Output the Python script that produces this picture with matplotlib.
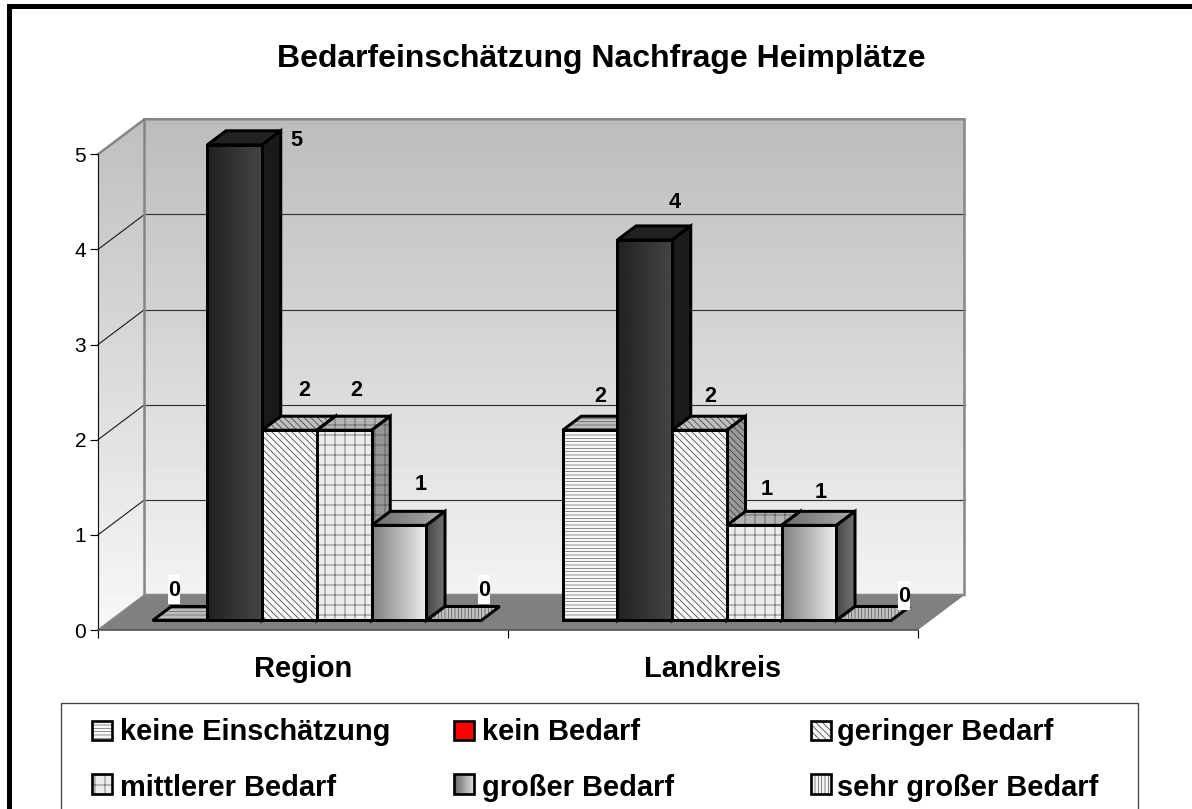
import numpy as np
import matplotlib
matplotlib.use('Agg')
import matplotlib.pyplot as plt
from matplotlib.colors import to_rgba
from matplotlib.patches import Polygon, Rectangle

plt.rcParams['font.family'] = ['Liberation Sans', 'DejaVu Sans']
plt.rcParams['hatch.linewidth'] = 0.4

# Werte
kategorien = ['Region', 'Landkreis']
serien = ['keine Einschätzung', 'kein Bedarf', 'geringer Bedarf',
          'mittlerer Bedarf', 'großer Bedarf', 'sehr großer Bedarf']
region = [0, 5, 2, 2, 1, 0]
landkreis = [2, 4, 2, 1, 1, 0]
titel = 'Bedarfeinschätzung Nachfrage Heimplätze'

# Stile je Serie
muster = ['-' * 6, None, '\\' * 6, '+' * 2, None, '|' * 6]
muster_farbe = ['#606060', None, '#2c2c2c', '#4a4a4a', None, '#505050']
front_farbe = ['#f8f8f8', None, '#f6f6f6', '#ececec', None, '#f4f4f4']
seite_farbe = ['#9a9a9a', '#1a1a1a', '#9a9a9a', '#969696', None, '#a8a8a8']
oben_farbe = ['#bcbcbc', '#222222', '#c0c0c0', '#b4b4b4', None, '#c0c0c0']
legende_farbe = ['#f8f8f8', '#ff0000', '#f6f6f6', '#ececec', None, '#f4f4f4']

# Versatz der Beschriftungen in Pixeln
label_dx = [[-24.5, 43, -4, -6.5, 3, 12], [-8, 11, -8, -6.5, -7, 22]]
label_dy = [[16.5, -9.5, 26, 26, 27, 16.5], [20, 23.7, 20, 22, 19, 10.5]]

# Geometrie (Pixel -> Datenwerte)
breite_px, hoehe_px = 1192, 809
links, rechts, oben, unten = 98, 918, 154.3, 630
px_x = (rechts - links) / 2
px_y = (unten - oben) / 5
DX = 46.5 / px_x
DY = 35 / px_y
T_VORN = 9.5 / 35
T_HINTEN = 23.5 / 35
bar_b = 54.75 / px_x
bar_start = 0.1025


def versatz(x, y, t):
    return x + t * DX, y + t * DY


fig = plt.figure(figsize=((breite_px + 0.01) / 120, (hoehe_px + 0.01) / 120), dpi=120)

# Hintergrund: Rahmen, Titel, Legende in Pixelkoordinaten
bg = fig.add_axes([0, 0, 1, 1], zorder=0)
bg.set_xlim(0, breite_px)
bg.set_ylim(hoehe_px, 0)
bg.axis('off')
ax = fig.add_axes([links / breite_px, 1 - unten / hoehe_px,
                   (rechts - links) / breite_px, (unten - oben) / hoehe_px], zorder=1)
ax.patch.set_visible(False)
ax.set_xlim(0, 2)
ax.set_ylim(0, 5)


def verlauf(achse, patch, v0, v1, richtung, z):
    # Grauverlauf, auf einen Patch zugeschnitten
    pfad = patch.get_path().transformed(patch.get_patch_transform()).vertices
    x0, y0 = pfad.min(axis=0)
    x1, y1 = pfad.max(axis=0)
    werte = np.linspace(v0, v1, 64)
    feld = werte[None, :] if richtung == 'x' else werte[:, None]
    im = achse.imshow(feld, extent=(x0, x1, y0, y1), origin='lower', cmap='gray',
                      vmin=0, vmax=1, aspect='auto', zorder=z, interpolation='bilinear')
    im.set_clip_path(patch)
    im.set_clip_box(fig.bbox)
    return im


def poly(punkte, z, **kw):
    p = Polygon(punkte, closed=True, clip_on=False, zorder=z, **kw)
    ax.add_patch(p)
    return p


def schraffur_farbe(patch, farbe):
    # Schraffur heller als der schwarze Rand
    if farbe is not None:
        patch._hatch_color = to_rgba(farbe)


# Wände und Boden
WAND = '#868686'
rueckwand = poly([versatz(0, 0, 1), versatz(2, 0, 1), versatz(2, 5, 1), versatz(0, 5, 1)], 0.1,
                 facecolor='none', edgecolor='none')
verlauf(ax, rueckwand, 0.95, 0.74, 'y', 0.2)
seitenwand = poly([(0, 0), versatz(0, 0, 1), versatz(0, 5, 1), (0, 5)], 0.1,
                  facecolor='none', edgecolor='none')
verlauf(ax, seitenwand, 0.97, 0.75, 'y', 0.2)
poly([(0, 0), (2, 0), versatz(2, 0, 1), versatz(0, 0, 1)], 0.3,
     facecolor='#808080', edgecolor='none')
for w in range(1, 5):
    x0, y0 = versatz(0, w, 1)
    x1, y1 = versatz(2, w, 1)
    ax.plot([x0, x1], [y0, y1], color='#333333', lw=0.7, clip_on=False, zorder=0.4)
    ax.plot([0, x0], [w, y0], color='#222222', lw=0.7, clip_on=False, zorder=0.4)
eck_x = [0, versatz(0, 5, 1)[0], versatz(2, 5, 1)[0], versatz(2, 0, 1)[0], versatz(0, 0, 1)[0], versatz(0, 5, 1)[0]]
eck_y = [5, versatz(0, 5, 1)[1], versatz(2, 5, 1)[1], versatz(2, 0, 1)[1], versatz(0, 0, 1)[1], versatz(0, 5, 1)[1]]
ax.plot(eck_x, eck_y, color=WAND, lw=1.5, clip_on=False, zorder=0.5, solid_joinstyle='miter')
ax.plot([0, versatz(0, 0, 1)[0]], [0, versatz(0, 0, 1)[1]], color=WAND, lw=1.0, clip_on=False, zorder=0.45)

# Balken, von links nach rechts
RAND = 1.8
z = 1.0
for k, werte in enumerate([region, landkreis]):
    for i, wert in enumerate(werte):
        x0 = k + bar_start + i * bar_b
        fx, fy = versatz(x0, 0, T_VORN)
        d = T_HINTEN - T_VORN
        oben_pkt = [(fx, fy + wert), (fx + bar_b, fy + wert),
                    versatz(fx + bar_b, fy + wert, d), versatz(fx, fy + wert, d)]
        seite_pkt = [(fx + bar_b, fy), versatz(fx + bar_b, fy, d),
                     versatz(fx + bar_b, fy + wert, d), (fx + bar_b, fy + wert)]

        # Oberseite
        if oben_farbe[i] is None:
            p = poly(oben_pkt, z, facecolor='none', edgecolor='k', lw=RAND, joinstyle='miter')
            verlauf(ax, p, 0.42, 0.68, 'x', z - 0.01)
        else:
            p = poly(oben_pkt, z, facecolor=oben_farbe[i], edgecolor='k', lw=RAND,
                     hatch=muster[i], joinstyle='miter')
            schraffur_farbe(p, muster_farbe[i])
        # Seite
        if wert > 0:
            if seite_farbe[i] is None:
                p = poly(seite_pkt, z + 0.02, facecolor='none', edgecolor='k', lw=RAND, joinstyle='miter')
                verlauf(ax, p, 0.28, 0.45, 'x', z + 0.01)
            else:
                p = poly(seite_pkt, z + 0.02, facecolor=seite_farbe[i], edgecolor='k', lw=RAND,
                         hatch=muster[i], joinstyle='miter')
                schraffur_farbe(p, muster_farbe[i])
        # Vorderseite
        if front_farbe[i] is None:
            bars = ax.bar(fx, wert, width=bar_b, bottom=fy, align='edge', facecolor='none',
                          edgecolor='k', linewidth=RAND, clip_on=False, zorder=z + 0.05)
            if wert > 0:
                if i == 1:
                    verlauf(ax, bars[0], 0.13, 0.27, 'x', z + 0.04)
                else:
                    verlauf(ax, bars[0], 0.5, 0.93, 'x', z + 0.04)
        else:
            bars = ax.bar(fx, wert, width=bar_b, bottom=fy, align='edge', facecolor=front_farbe[i],
                          edgecolor='k', linewidth=RAND, hatch=muster[i], clip_on=False, zorder=z + 0.05)
            schraffur_farbe(bars[0], muster_farbe[i])

        # Beschriftung, die Nullen stehen auf weißem Feld
        lx, ly = versatz(fx + bar_b / 2, fy + wert, d)
        if wert == 0:
            mx = lx + label_dx[k][i] / px_x
            my = ly + label_dy[k][i] / px_y
            ax.add_patch(Rectangle((mx - 6 / px_x, my - 14.5 / px_y), 12 / px_x, 29 / px_y,
                                   facecolor='white', edgecolor='none', clip_on=False, zorder=19))
        ax.annotate(str(wert), (lx, ly), xytext=(label_dx[k][i] * 0.6, label_dy[k][i] * 0.6),
                    textcoords='offset points', ha='center', va='center', fontsize=13,
                    fontweight='bold', color='k', annotation_clip=False, zorder=20)
        z += 0.1

# Achsen
for s in ['top', 'right']:
    ax.spines[s].set_visible(False)
ax.spines['left'].set_linewidth(0.7)
ax.spines['left'].set_color('#111111')
ax.spines['bottom'].set_linewidth(1.0)
ax.spines['bottom'].set_color('#555555')
ax.set_yticks(range(6))
ax.tick_params(axis='y', length=4.8, width=0.7, pad=2.4, labelsize=12.5)
ax.set_xticks([0, 1, 2])
ax.set_xticklabels([])
ax.set_xticks([0.5, 1.5], minor=True)
ax.set_xticklabels(kategorien, minor=True, fontsize=17.4, fontweight='bold')
ax.tick_params(axis='x', which='major', length=4.8, width=0.7)
ax.tick_params(axis='x', which='minor', length=0, pad=15)

# Rahmen und Titel
bg.add_patch(Rectangle((8.5, 6.5), breite_px + 20, hoehe_px + 20, facecolor='white',
                       edgecolor='k', linewidth=3, joinstyle='miter', clip_on=False))
bg.text(601, 67, titel, ha='center', va='baseline', fontsize=19.2, fontweight='bold')

# Legende
bg.add_patch(Rectangle((61, 703), 1138 - 61, 200, facecolor='white', edgecolor='#444444',
                       linewidth=0.8, clip_on=False))
spalten = [92, 454, 811]
zeilen = [721, 774.5]
grundlinie = [740, 796]
for i, name in enumerate(serien):
    sx = spalten[i % 3]
    sy = zeilen[i // 3]
    if legende_farbe[i] is None:
        r = Rectangle((sx, sy), 20, 19.5, facecolor='none', edgecolor='k', linewidth=1.6, zorder=3)
        bg.add_patch(r)
        verlauf(bg, r, 0.4, 0.9, 'x', 2)
        bg.set_xlim(0, breite_px)
        bg.set_ylim(hoehe_px, 0)
    else:
        r = Rectangle((sx, sy), 20, 19.5, facecolor=legende_farbe[i], edgecolor='k',
                      linewidth=1.6, hatch=muster[i], zorder=3)
        bg.add_patch(r)
        schraffur_farbe(r, muster_farbe[i])
    bg.text(sx + 28 if i % 3 != 2 else sx + 26, grundlinie[i // 3], name, ha='left', va='baseline',
            fontsize=17.4, fontweight='bold')

ax.set_xlim(0, 2)
ax.set_ylim(0, 5)
fig.savefig('out.png', dpi=120)
